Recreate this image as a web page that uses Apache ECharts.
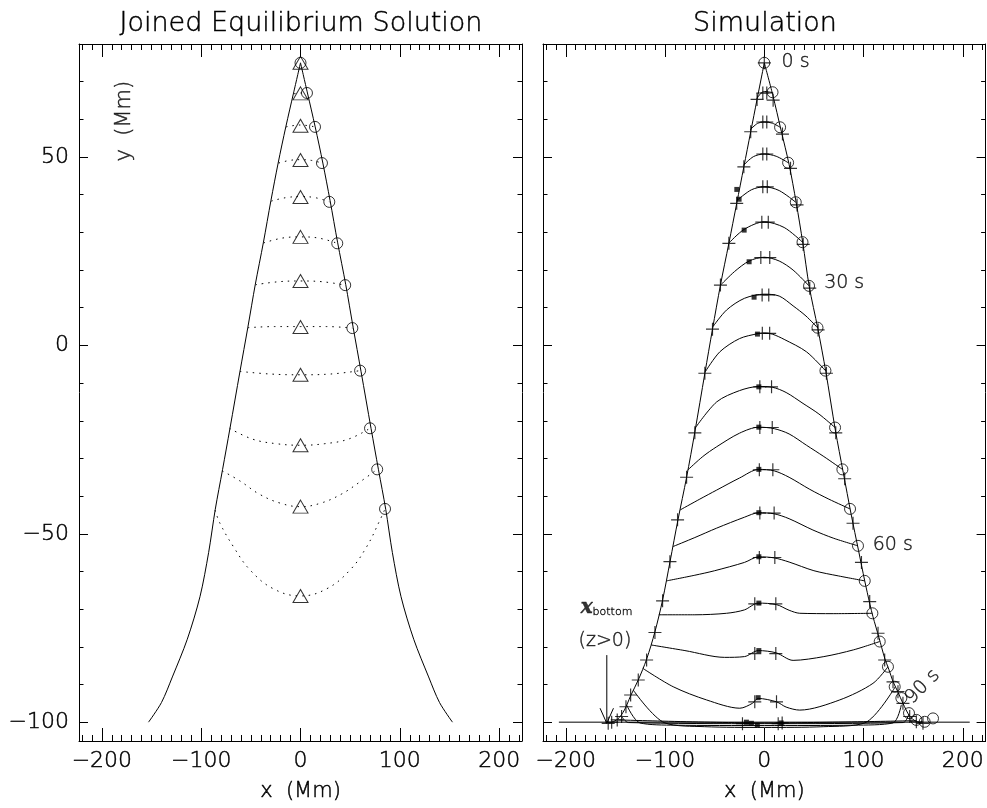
<!DOCTYPE html>
<html><head><meta charset="utf-8">
<script src="https://cdn.jsdelivr.net/npm/echarts@6/dist/echarts.min.js"></script>
<style>html,body{margin:0;padding:0;background:#fff}#c{width:987px;height:808px}</style>
</head><body><div id="c"></div>
<script>
// ---------------- axes / ticks ----------------
const xRange = [-223, 223];
const yRange = [-105, 80];
const xMajor = [-200, -100, 0, 100, 200];
const xMinor = [-220,-210,-190,-180,-170,-160,-150,-140,-130,-120,-110,-90,-80,-70,-60,-50,-40,-30,-20,-10,10,20,30,40,50,60,70,80,90,110,120,130,140,150,160,170,180,190,210,220];
const yMajor = [-100, -50, 0, 50];
const yMinor = [-90,-80,-70,-60,-40,-30,-20,-10,10,20,30,40,60,70];

// ---------------- left panel: joined equilibrium solution ----------------
const eqBoundaryLeft = [[-153,-100],[-140,-94.8],[-129,-88],[-114,-78],[-101.2,-66.7],[-92.5,-55],[-85.8,-43.5],[-78.5,-33],[-71,-22],[-61,-7],[-53,4.8],[-45.5,16.2],[-37.3,27.4],[-29.8,38.4],[-22.5,48.4],[-14.8,58],[-7,67],[0,75]];
const eqBoundaryRight = [[0,75],[7,67],[14.8,58],[22.5,48.4],[29.8,38.4],[37.3,27.4],[45.5,16.2],[53,4.8],[61,-7],[71,-22],[78.5,-33],[85.8,-43.5],[92.5,-55],[101.2,-66.7],[114,-78],[129,-88],[140,-94.8],[153,-100]];
const eqApexY = [75, 66.9, 58.3, 49.2, 39.4, 28.8, 17.1, 4.9, -7.8, -26.5, -42.8, -66.5];
const eqCircles = [[0,75],[6.5,67],[14.6,58],[21.6,48.4],[29,38.1],[37,27.1],[45,16],[52.2,4.6],[60,-6.7],[70,-22],[77.2,-32.9],[85.1,-43.4]];
const eqFieldLines = [
  [[-6.5,66.8],[0,67],[6.5,67]],
  [[-14.6,58],[0,58.5],[14.6,58]],
  [[-22,48.4],[-11,49.1],[0,49.3],[11,49.1],[21.6,48.4]],
  [[-29.5,38.3],[-15,39.2],[0,39.5],[15,39.2],[29,38.1]],
  [[-37.2,27.2],[-18,28.5],[0,28.8],[18,28.5],[37,27.1]],
  [[-45.4,16.1],[-22,16.9],[0,17.1],[22,16.9],[45,16]],
  [[-53,4.7],[-26,5],[0,5],[26,5],[52.2,4.6]],
  [[-61,-6.9],[-30,-7.6],[0,-7.8],[30,-7.6],[60,-6.7]],
  [[-71.5,-22],[-48,-24.9],[-24,-26.1],[0,-26.5],[24,-26.1],[48,-24.9],[70,-22]],
  [[-78.9,-33.3],[-61.4,-35.9],[-41.3,-39.5],[-20,-41.9],[0,-42.8],[20,-41.9],[41,-39.5],[60,-36.2],[77.2,-32.9]],
  [[-86,-43.7],[-81.1,-47.2],[-67.6,-53.4],[-50.8,-59.6],[-27.3,-64.6],[0,-66.5],[26.4,-64.6],[49.9,-59.6],[66.7,-53.4],[80.1,-46.3],[85.1,-43.4]]
];

// ---------------- right panel: simulation ----------------
const simLegLeft = [[0,75],[-7.3,65.3],[-13.7,56.7],[-20.6,47.4],[-27.8,37.7],[-35.7,27.1],[-44.2,16],[-52.2,4.3],[-59.9,-7.4],[-70,-23],[-78.3,-35],[-87,-46.3],[-95,-57.4],[-102.5,-67.6],[-110.2,-76],[-118.6,-83.3],[-127,-88.8],[-134.7,-93],[-141,-96.8],[-148.2,-99.3],[-157.3,-100.3]];
const simLegRight = [[0,75],[8.5,66.5],[16.8,57.2],[25,48],[32.2,37.8],[38.8,27.2],[45.3,15.6],[53.9,4.5],[62,-7],[71.6,-22.5],[79.6,-33.8],[87.5,-44.8],[95,-54.5],[101.2,-62.5],[106.5,-68.8],[109.5,-72],[115.5,-77.5],[121.3,-83],[125.5,-86],[130,-89.4],[134.7,-92],[139.7,-95],[146.5,-98.4],[153,-99.8],[159.9,-100.3]];
const simFieldLines = [
  [[-7.5,65.5],[-3.5,66.9],[0,67.4],[4,67.3],[8.3,67.1]],
  [[-14.3,57.2],[-7,58.9],[0,59.3],[8,59],[15.9,57.9]],
  [[-21,47.8],[-11,50.1],[0,50.8],[12,50.2],[24,48.5]],
  [[-27,38.6],[-13,41.3],[0,42.1],[15,41.1],[31.7,38]],
  [[-35.9,27.1],[-20.3,30.8],[0,32.8],[20,31.3],[38.5,27.4]],
  [[-44.1,16],[-30,19.6],[-15.3,22.4],[0,23.4],[15,22.4],[29,20],[45.1,15.8]],
  [[-51.7,5],[-38,9.4],[-20,12.5],[0,13.6],[15,13.1],[29,10.5],[42,7.8],[53.6,4.7]],
  [[-59.5,-7],[-44.8,-1.7],[-25,1.8],[-6.9,3.1],[0,3.3],[8,3],[20,1.6],[42.5,-1.7],[61.6,-6.7]],
  [[-69.8,-22],[-48,-15],[-25,-12],[-5.5,-10.9],[8,-11.1],[22,-12.5],[39,-15.4],[55,-18.2],[71.3,-21.8]],
  [[-77.2,-33.1],[-62,-29.5],[-48,-26.9],[-25,-23.3],[-5.5,-21.7],[10,-22.1],[25,-23.5],[42.5,-26.5],[60,-29.5],[78.7,-32.9]],
  [[-85,-43.7],[-65,-40.8],[-48,-38.4],[-25,-35.2],[-5.5,-32.9],[10,-33.3],[25,-35],[45.8,-38.2],[65,-40.8],[86.4,-43.4]],
  [[-92.1,-53.4],[-70,-51],[-48,-48.5],[-20,-45.6],[-5.5,-44.4],[10,-44.7],[25,-46],[49,-49],[70,-51.2],[94.4,-53.2]],
  [[-98.5,-62.5],[-70,-61],[-50,-59.8],[-20,-57.6],[-5.5,-56.1],[10,-56.4],[25,-57.5],[50,-59.8],[75,-61.2],[101.2,-62.5]],
  [[-106.3,-71.5],[-70,-71.5],[-38,-71.1],[-20,-70.2],[-6.2,-68.4],[12.3,-68.8],[25,-70.3],[35.7,-71.1],[70,-71.2],[108.9,-71.1]],
  [[-114.2,-79.5],[-80,-81],[-40,-82.8],[-20,-82.6],[-6,-81],[12,-81.6],[29,-83.6],[60,-82.6],[90,-80.8],[116.3,-78.6]],
  [[-122.5,-85.7],[-91.8,-90.6],[-58.2,-94.1],[-24.7,-96.3],[-12,-95],[-6.2,-93.7],[12.3,-94.6],[22,-96],[35.7,-96.8],[76,-94.1],[109.5,-89.7],[124.6,-85.3]],
  [[-132,-91.5],[-100.2,-100.2],[-60,-101.2],[0,-101.4],[60,-101.2],[101.2,-100.2],[132,-90.6]],
  [[-138.8,-95.4],[-125.3,-100.2],[-90,-100.8],[0,-100.9],[90,-100.8],[129.7,-100.2],[138.1,-95.4]],
  [[-143.8,-98.5],[-137,-100.1],[0,-100.4],[140,-100.1],[145.8,-97.8]],
  [[-148.2,-99.4],[0,-100.2],[153.2,-99.6]]
];
const simCircles = [[0,75],[8.3,67.2],[15.9,57.9],[24,48.5],[31.7,38],[38.5,27.4],[45.1,15.8],[53.6,4.7],[61.6,-6.7],[71.3,-21.8],[78.7,-32.9],[86.4,-43.4],[94.4,-53.2],[101.2,-62.5],[108.9,-71.1],[116.3,-78.6],[124.6,-85.3],[131.4,-90.6],[138.1,-93.6],[145.8,-97.6],[153.2,-99.4],[161.6,-99.9],[170,-99]];
const simPlusLeft = [[0,75],[-7.3,65.3],[-13.7,56.7],[-20.6,47.4],[-27.8,37.7],[-35.7,27.1],[-44.2,16],[-52.2,4.3],[-59.9,-7.4],[-70,-23.2],[-78.3,-35],[-87.4,-46.3],[-95.1,-57.4],[-102.5,-67.8],[-110.2,-76.2],[-118.6,-83.5],[-127,-88.8],[-134.7,-92.8],[-139.4,-95.9],[-143.8,-98.5],[-148.2,-99.4],[-153.8,-100],[-157.3,-100.3]];
const simPlusRight = [[8.9,65.1],[18.3,56.1],[26.4,47],[33,37.3],[39.2,26.8],[45.8,15.2],[54.2,4.1],[62.6,-7.4],[72,-23.2],[81,-35.4],[89.4,-47.2],[97.9,-57.6],[106.2,-68],[114.6,-76.4],[121.3,-83.5],[129.7,-89.3],[134.7,-91.9],[139.7,-95],[146.5,-98.5],[153.2,-99.9],[159.9,-100.3]];
const simPlusCenter = [[-1.5,67],[2.5,67],[-1.5,59.3],[2.5,59.3],[-1.5,50.8],[2.5,50.8],[-1.5,42.1],[3,42.1],[-2.5,32.7],[4,32.7],[-3.5,23.3],[5.5,23.3],[-2.2,13.4],[4.5,13.4],[-2,3.2],[5.4,3.2],[-4.5,-11],[7.3,-11],[-4.5,-21.8],[8,-21.8],[-5,-33],[8.6,-33],[-4.5,-44.5],[9.9,-44.5],[-5,-56.3],[10.6,-56.3],[-9.6,-68.6],[11.6,-68.6],[-9.6,-81.8],[11.6,-81.8],[-9.6,-94.6],[12.3,-94.6],[-22,-100.4],[14,-100.4],[18,-100.2]];
const simSquares = [[-27.7,41.4],[-25.4,38.8],[-20.3,30.6],[-15.3,22.2],[-10.3,12.8],[-6.9,3.0],[-5.5,-11],[-5.5,-21.7],[-5.5,-32.9],[-5.5,-44.4],[-5.5,-56.1],[-5.5,-68.4],[-5.5,-81],[-6.2,-93.5],[-18,-100],[-13,-100.3],[-7,-100.8],[17,-100.2]];
const simBaseline = [[-207,-100],[207,-100]];
const arrowShaft = [[-158.7,-82.2],[-158.7,-100.3]];
const arrowHead = [[-165.5,-96.3],[-158.7,-100.3],[-152,-96.3]];
const timeLabels = [
  {name:'0 s', value:[31.5,75.2], rotate:0},
  {name:'30 s', value:[80.5,16.6], rotate:0},
  {name:'60 s', value:[129.4,-53], rotate:0},
  {name:'90 s', value:[159.5,-90.6], rotate:45}
];
const annotLabels = [
  {name:'xb', value:[-159,-69.7]},
  {name:'(z>0)', value:[-160.6,-78.4]}
];

// ---------------- chart ----------------
const FONT = "'DejaVu Sans', sans-serif";
const TXT = {fontFamily: FONT, fontWeight: 200, color: '#000', textBorderColor:'#000', textBorderWidth:0.45};
const fmt = v => (v < 0 ? '\u2212' + Math.abs(v) : String(v));
const BLACK = {color:'#000', width:1};

function xAxesFor(g) {
  const base = {gridIndex:g, type:'value', min:xRange[0], max:xRange[1], splitLine:{show:false}};
  return [
    Object.assign({}, base, {position:'bottom', axisLine:{show:true, onZero:false, lineStyle:BLACK},
      axisTick:{show:true, inside:true, length:13, customValues:xMajor, lineStyle:BLACK},
      axisLabel:Object.assign({show:true, customValues:xMajor, formatter:fmt, margin:9, fontSize:22}, TXT),
      name:'x  (Mm)', nameLocation:'middle', nameGap:40, nameTextStyle:Object.assign({fontSize:21}, TXT)}),
    Object.assign({}, base, {position:'bottom', axisLine:{show:false, onZero:false},
      axisTick:{show:true, inside:true, length:6, customValues:xMinor, lineStyle:BLACK}, axisLabel:{show:false}}),
    Object.assign({}, base, {position:'top', axisLine:{show:true, onZero:false, lineStyle:BLACK},
      axisTick:{show:true, inside:true, length:13, customValues:xMajor, lineStyle:BLACK}, axisLabel:{show:false}}),
    Object.assign({}, base, {position:'top', axisLine:{show:false, onZero:false},
      axisTick:{show:true, inside:true, length:6, customValues:xMinor, lineStyle:BLACK}, axisLabel:{show:false}})
  ];
}
function yAxesFor(g, labels) {
  const base = {gridIndex:g, type:'value', min:yRange[0], max:yRange[1], splitLine:{show:false}};
  return [
    Object.assign({}, base, {position:'left', axisLine:{show:true, onZero:false, lineStyle:BLACK},
      axisTick:{show:true, inside:true, length:9, customValues:yMajor, lineStyle:BLACK},
      axisLabel:labels ? Object.assign({show:true, customValues:yMajor, formatter:fmt, margin:10, fontSize:22}, TXT) : {show:false}}),
    Object.assign({}, base, {position:'left', axisLine:{show:false, onZero:false},
      axisTick:{show:true, inside:true, length:4.5, customValues:yMinor, lineStyle:BLACK}, axisLabel:{show:false}}),
    Object.assign({}, base, {position:'right', axisLine:{show:true, onZero:false, lineStyle:BLACK},
      axisTick:{show:true, inside:true, length:9, customValues:yMajor, lineStyle:BLACK}, axisLabel:{show:false}}),
    Object.assign({}, base, {position:'right', axisLine:{show:false, onZero:false},
      axisTick:{show:true, inside:true, length:4.5, customValues:yMinor, lineStyle:BLACK}, axisLabel:{show:false}})
  ];
}

const PLUS = 'path://M-1,-0.09L1,-0.09L1,0.09L-1,0.09Z M-0.09,-1L0.09,-1L0.09,1L-0.09,1Z';
const series = [];
function line(g, data, opts) {
  series.push(Object.assign({type:'line', xAxisIndex:g*4, yAxisIndex:g*4, data:data, symbol:'none',
    smooth:0.3, lineStyle:{color:'#000', width:1}, silent:true, z:2}, opts || {}));
}
function scatter(g, data, opts) {
  series.push(Object.assign({type:'scatter', xAxisIndex:g*4, yAxisIndex:g*4, data:data, silent:true, z:4}, opts));
}

// left panel
line(0, eqBoundaryLeft);
line(0, eqBoundaryRight);
eqFieldLines.forEach(d => line(0, d, {smooth:0.4, lineStyle:{color:'#000', width:1, type:[1.5,5]}}));
scatter(0, eqApexY.map(y => [0, y]), {symbol:'triangle', symbolSize:[15,13],
  itemStyle:{color:'rgba(0,0,0,0)', borderColor:'#000', borderWidth:1}});
scatter(0, eqCircles, {symbol:'circle', symbolSize:11,
  itemStyle:{color:'rgba(0,0,0,0)', borderColor:'#000', borderWidth:1}});
scatter(0, [{name:'y  (Mm)', value:[-176.7, 59.5]}], {symbolSize:1, itemStyle:{color:'rgba(0,0,0,0)'},
  label:Object.assign({show:true, position:'inside', formatter:'{b}', rotate:90, fontSize:21}, TXT)});

// right panel
line(1, simBaseline, {smooth:false});
line(1, simLegLeft);
line(1, simLegRight);
simFieldLines.forEach(d => line(1, d));
line(1, arrowShaft, {smooth:false});
line(1, arrowHead, {smooth:false});
scatter(1, simCircles, {symbol:'circle', symbolSize:11,
  itemStyle:{color:'rgba(0,0,0,0)', borderColor:'#000', borderWidth:1}});
scatter(1, simPlusLeft.concat(simPlusRight).concat(simPlusCenter), {symbol:PLUS, symbolSize:13, itemStyle:{color:'#000'}});
scatter(1, simSquares, {symbol:'rect', symbolSize:5, itemStyle:{color:'#000'}});
scatter(1, timeLabels.map(t => ({name:t.name, value:t.value, label:{rotate:t.rotate}})), {symbolSize:1,
  itemStyle:{color:'rgba(0,0,0,0)'},
  label:Object.assign({show:true, position:'inside', formatter:'{b}', fontSize:19}, TXT)});
scatter(1, annotLabels.map(t => ({name:t.name, value:t.value,
  label: t.name === 'xb' ? {formatter:'{a|x}{b|bottom}'} : {formatter:'{b}'}})), {symbolSize:1,
  itemStyle:{color:'rgba(0,0,0,0)'},
  label:Object.assign({show:true, position:'inside', fontSize:19,
    rich:{a:{fontFamily:"'DejaVu Serif', serif", fontStyle:'italic', fontWeight:'bold', fontSize:20, color:'#000', lineHeight:22},
          b:{fontFamily:"'DejaVu Sans', sans-serif", fontSize:11, color:'#000', padding:[9,0,0,0], lineHeight:22}}}, TXT)});

const option = {
  animation:false,
  backgroundColor:'#fff',
  grid:[{left:79, top:44, width:443, height:697}, {left:543, top:44, width:443, height:697}],
  xAxis:xAxesFor(0).concat(xAxesFor(1)),
  yAxis:yAxesFor(0, true).concat(yAxesFor(1, false)),
  graphic:[
    {type:'text', x:301, y:24, style:{text:'Joined Equilibrium Solution', align:'center', verticalAlign:'middle', fontSize:27, fill:'#000', stroke:'#000', lineWidth:0.45, fontFamily:FONT, fontWeight:200}},
    {type:'text', x:765, y:24, style:{text:'Simulation', align:'center', verticalAlign:'middle', fontSize:27, fill:'#000', stroke:'#000', lineWidth:0.45, fontFamily:FONT, fontWeight:200}}
  ],
  series:series
};
const chart = echarts.init(document.getElementById('c'));
chart.setOption(option);
</script>
</body></html>
